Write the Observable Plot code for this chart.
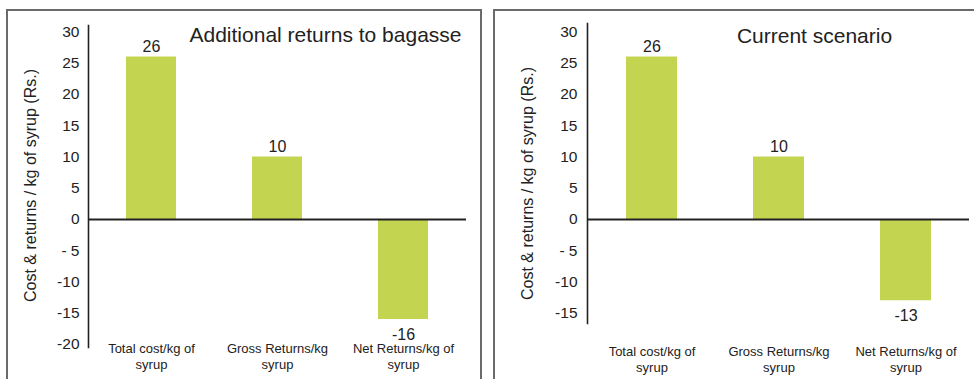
<!DOCTYPE html>
<html>
<head>
<meta charset="utf-8">
<script src="https://cdn.jsdelivr.net/npm/d3@7"></script>
<script src="https://cdn.jsdelivr.net/npm/@observablehq/plot@0.6"></script>
<style>
  html, body { margin: 0; padding: 0; background: #fff; }
  #chart { position: relative; width: 974px; height: 379px; overflow: hidden; background: #fff; }
  .panel-frame { position: absolute; box-sizing: border-box; border: 2px solid #6a6a6a; height: 420px; }
  .panel-svg { position: absolute; top: 0; }
</style>
</head>
<body>
<div id="chart"></div>
<script>
// Cost and returns per kg of syrup (Rs.), two scenarios
const categories = ["Total cost/kg of\nsyrup", "Gross Returns/kg\nsyrup", "Net Returns/kg of\nsyrup"];
const bagasseTitle = "Additional returns to bagasse";
const bagasseValues = [26, 10, -16];
const bagasseTicks = [-20, -15, -10, -5, 0, 5, 10, 15, 20, 25, 30];
const bagasseTickLabels = ["-20", "-15", "-10", "- 5", "0", "5", "10", "15", "20", "25", "30"];

const currentTitle = "Current scenario";
const currentValues = [26, 10, -13];
const currentTicks = [-15, -10, -5, 0, 5, 10, 15, 20, 25, 30];
const currentTickLabels = ["-15", "-10", "- 5", "0", "5", "10", "15", "20", "25", "30"];

const yLabel = "Cost & returns / kg of syrup (Rs.)";

const barColor = "#c3d550";
const ink = "#222";
const font = "'Liberation Sans', Arial, sans-serif";

function panel(cfg) {
  const data = categories.map((c, i) => ({cat: c, value: cfg.values[i]}));
  return Plot.plot({
    width: 487,
    height: 379,
    marginLeft: cfg.marginLeft,
    marginRight: cfg.marginRight,
    marginTop: cfg.marginTop,
    marginBottom: cfg.marginBottom,
    style: {fontFamily: font, color: ink, background: "transparent", overflow: "visible"},
    x: {domain: categories, paddingInner: 0.6, paddingOuter: 0.3},
    y: {domain: cfg.yDomain},
    marks: [
      Plot.barY(data, {x: "cat", y: "value", fill: barColor}),
      Plot.ruleY([0], {stroke: ink, strokeWidth: 1.8}),
      Plot.frame({anchor: "left", stroke: ink, strokeWidth: 1.6}),
      Plot.axisY(cfg.ticks, {
        tickSize: 0,
        tickPadding: cfg.tickPadding,
        fontSize: 15.5,
        fill: ink,
        label: null,
        tickFormat: d => cfg.tickLabels[cfg.ticks.indexOf(d)]
      }),
      Plot.axisX({
        tickSize: 0,
        tickPadding: 0,
        lineAnchor: "top",
        lineHeight: 1.25,
        dy: cfg.catDy,
        fontSize: 13,
        fill: ink,
        label: null
      }),
      Plot.text(data.filter(d => d.value >= 0), {
        x: "cat", y: "value", text: d => String(d.value),
        dy: -10, fontSize: 16, fill: ink, lineAnchor: "middle"
      }),
      Plot.text(data.filter(d => d.value < 0), {
        x: "cat", y: "value", text: d => String(d.value),
        dy: 15, fontSize: 16, fill: ink, lineAnchor: "middle"
      }),
      Plot.text([cfg.title], {
        frameAnchor: "top", dx: cfg.titleDx, dy: cfg.titleDy,
        lineAnchor: "middle", fontSize: 21, fill: ink
      }),
      Plot.text([yLabel], {
        frameAnchor: "left", textAnchor: "middle", rotate: -90,
        dx: cfg.yLabelDx, dy: cfg.yLabelDy,
        lineAnchor: "middle", fontSize: 16, fill: ink
      })
    ]
  });
}

const chart = document.getElementById("chart");

const leftFrame = document.createElement("div");
leftFrame.className = "panel-frame";
Object.assign(leftFrame.style, {left: "6px", top: "9px", width: "476px"});
chart.appendChild(leftFrame);

const rightFrame = document.createElement("div");
rightFrame.className = "panel-frame";
Object.assign(rightFrame.style, {left: "493px", top: "9px", width: "500px"});
chart.appendChild(rightFrame);

const left = panel({
  title: bagasseTitle,
  values: bagasseValues,
  ticks: bagasseTicks,
  tickLabels: bagasseTickLabels,
  yDomain: [-20.48, 31.04],
  marginLeft: 88, marginRight: 21, marginTop: 25, marginBottom: 32,
  tickPadding: 9,
  catDy: -6,
  titleDx: 48, titleDy: 10,
  yLabelDx: -58, yLabelDy: -1
});
left.classList.add("panel-svg");
left.style.left = "0px";
chart.appendChild(left);

const right = panel({
  title: currentTitle,
  values: currentValues,
  ticks: currentTicks,
  tickLabels: currentTickLabels,
  yDomain: [-16.64, 31.36],
  marginLeft: 100, marginRight: 5, marginTop: 23, marginBottom: 56,
  tickPadding: 10,
  catDy: 21,
  titleDx: 36, titleDy: 13,
  yLabelDx: -60, yLabelDy: 10
});
right.classList.add("panel-svg");
right.style.left = "487px";
chart.appendChild(right);
</script>
</body>
</html>
